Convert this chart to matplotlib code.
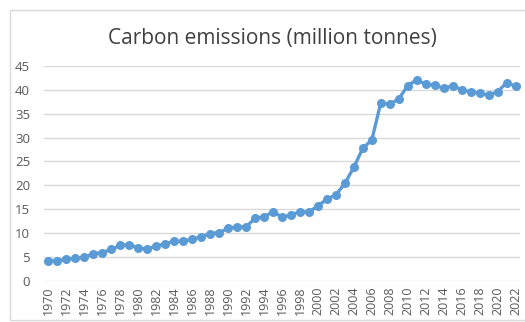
import matplotlib
matplotlib.use("Agg")
import matplotlib.pyplot as plt
from matplotlib.patches import Rectangle

years = list(range(1970, 2023))
emissions = [
    4.2, 4.2, 4.5, 4.7, 4.9, 5.7, 5.9, 6.6, 7.4, 7.6,
    6.8, 6.7, 7.2, 7.8, 8.3, 8.3, 8.7, 9.2, 9.9, 10.1,
    11.0, 11.3, 11.3, 13.1, 13.4, 14.5, 13.3, 13.8, 14.5, 14.4,
    15.7, 17.1, 18.0, 20.4, 23.8, 27.8, 29.5, 37.3, 37.0, 38.1,
    40.9, 42.1, 41.2, 41.0, 40.3, 40.9, 40.0, 39.6, 39.3, 38.9,
    39.6, 41.5, 40.8,
]
tick_years = years[::2]
title = "Carbon emissions (million tonnes)"

plt.rcParams['font.family'] = ['Open Sans', 'DejaVu Sans']

fig = plt.figure(figsize=(5.25, 3.22), dpi=100)
ax = fig.add_axes([0.0838, 0.128, 0.9067, 0.667])

# light chart-area border
fig.patches.append(Rectangle((10 / 525, 2 / 322), 1.2, 1 - 12 / 322,
                             transform=fig.transFigure, fill=False,
                             edgecolor='#d9d9d9', linewidth=1.0))

ax.plot(years, emissions, color='#5b9bd5', linewidth=2.4,
        marker='o', markersize=6.5, markeredgewidth=0)

ax.set_xlim(1969.5, 2022.5)
ax.set_ylim(0, 45)
ax.set_yticks(range(0, 50, 5))
ax.set_xticks(tick_years)
ax.set_xticklabels([str(y) for y in tick_years], rotation=90)

ax.grid(axis='y', color='#d9d9d9', linewidth=1.0)
ax.set_axisbelow(True)
for s in ax.spines.values():
    s.set_visible(False)
ax.tick_params(axis='both', length=0, colors='#595959')
ax.tick_params(axis='y', labelsize=9.5, pad=10)
ax.tick_params(axis='x', labelsize=9, pad=4)

fig.text(0.518, 0.88, title, ha='center', va='center',
         fontsize=15, color='#404040')

fig.savefig('out.png', dpi=100)
